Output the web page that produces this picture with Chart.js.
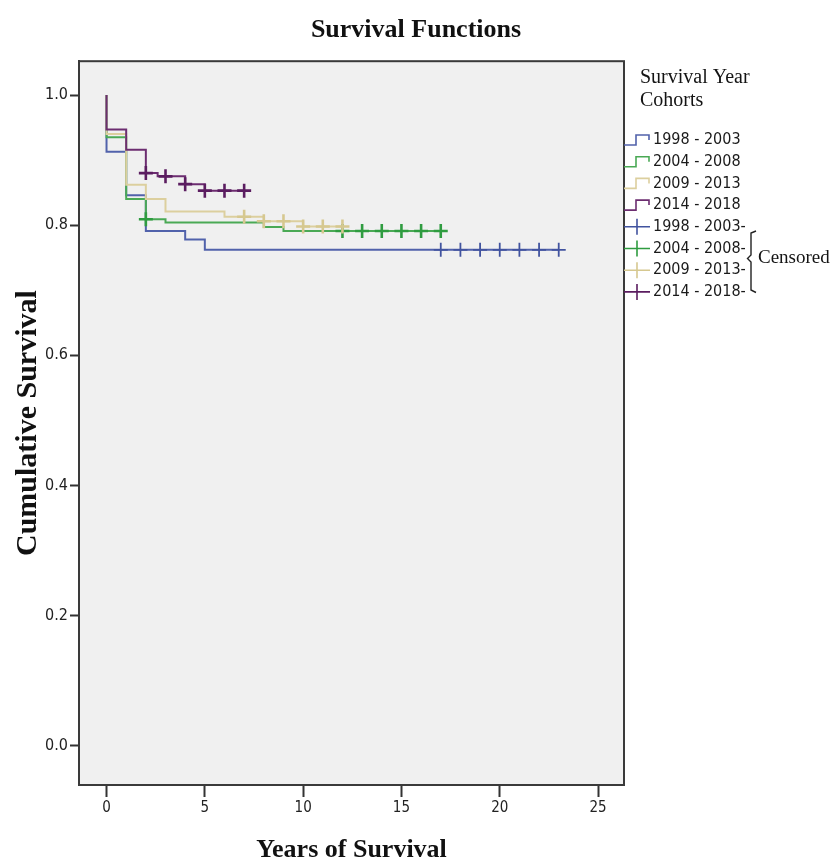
<!DOCTYPE html>
<html>
<head>
<meta charset="utf-8">
<script src="https://cdn.jsdelivr.net/npm/chart.js@4.4.1/dist/chart.umd.min.js"></script>
<style>
  html, body { margin: 0; padding: 0; background: #ffffff; }
  #wrap { width: 832px; height: 868px; }
</style>
</head>
<body>
<div id="wrap"><canvas id="c" width="832" height="868"></canvas></div>
<script>
// ---------------- data ----------------
const cohorts = ["1998 - 2003", "2004 - 2008", "2009 - 2013", "2014 - 2018"];
const censoredLabels = ["1998 - 2003-", "2004 - 2008-", "2009 - 2013-", "2014 - 2018-"];
const legendTitle = ["Survival Year", "Cohorts"];
const censoredText = "Censored";

const xTicks = [0, 5, 10, 15, 20, 25];
const yTicks = [0.0, 0.2, 0.4, 0.6, 0.8, 1.0];

// step curves (time of change, survival after change)
const blueTimes = [0, 0, 1, 2, 4, 5, 23];
const blueSurv  = [1.0, 0.913, 0.846, 0.791, 0.778, 0.762, 0.762];
const greenTimes = [0, 0, 1, 2, 3, 8, 9, 17];
const greenSurv  = [1.0, 0.935, 0.840, 0.809, 0.804, 0.797, 0.791, 0.791];
const tanTimes = [0, 0, 1, 2, 3, 6, 8, 10, 12];
const tanSurv  = [1.0, 0.940, 0.862, 0.840, 0.821, 0.813, 0.806, 0.798, 0.798];
const purpleTimes = [0, 0, 1, 2, 2.6, 4, 5, 7];
const purpleSurv  = [1.0, 0.947, 0.916, 0.880, 0.875, 0.863, 0.853, 0.853];

// censored observations
const blueCensT = [17, 18, 19, 20, 21, 22, 23];
const blueCensS = [0.762, 0.762, 0.762, 0.762, 0.762, 0.762, 0.762];
const greenCensT = [2, 12, 13, 14, 15, 16, 17];
const greenCensS = [0.809, 0.791, 0.791, 0.791, 0.791, 0.791, 0.791];
const tanCensT = [7, 8, 9, 10, 11, 12];
const tanCensS = [0.813, 0.806, 0.806, 0.798, 0.798, 0.798];
const purpleCensT = [2, 3, 4, 5, 6, 7];
const purpleCensS = [0.880, 0.875, 0.863, 0.853, 0.853, 0.853];

// ---------------- styles ----------------
const lineColors  = ["#5162ab", "#4aa955", "#dccf9e", "#6c2d70"];
const crossColors = ["#41539f", "#2f9c40", "#d6c890", "#5b1d60"];

const toPts = (t, s) => t.map((v, i) => ({ x: v, y: s[i] }));
const curveT = [blueTimes, greenTimes, tanTimes, purpleTimes];
const curveS = [blueSurv, greenSurv, tanSurv, purpleSurv];
const censT = [blueCensT, greenCensT, tanCensT, purpleCensT];
const censS = [blueCensS, greenCensS, tanCensS, purpleCensS];

const datasets = [];
for (let i = 0; i < 4; i++) {
  datasets.push({
    type: 'line',
    label: cohorts[i],
    data: toPts(curveT[i], curveS[i]),
    stepped: 'before',
    borderColor: lineColors[i],
    borderWidth: 2,
    pointRadius: 0,
    fill: false,
    order: 8 - i
  });
}
for (let i = 0; i < 4; i++) {
  datasets.push({
    type: 'line',
    label: censoredLabels[i],
    data: toPts(censT[i], censS[i]),
    showLine: false,
    pointStyle: 'cross',
    pointRadius: 7,
    pointBorderWidth: i === 0 ? 1.8 : 2.6,
    pointBorderColor: crossColors[i],
    borderColor: crossColors[i],
    order: 4 - i
  });
}

const SERIF = '"Liberation Serif", "DejaVu Serif", serif';
const COND = '"DejaVu Sans Condensed", "Liberation Sans Narrow", "DejaVu Sans", sans-serif';

const framePlugin = {
  id: 'frame',
  beforeDraw(chart) {
    const { ctx, chartArea: a } = chart;
    ctx.save();
    ctx.fillStyle = '#f0f0f0';
    ctx.fillRect(a.left, a.top, a.right - a.left, a.bottom - a.top);
    ctx.restore();
  },
  afterDraw(chart) {
    const { ctx, chartArea: a } = chart;
    ctx.save();
    ctx.strokeStyle = '#3a3a3a';
    ctx.lineWidth = 2;
    ctx.strokeRect(a.left, a.top, a.right - a.left, a.bottom - a.top);
    ctx.restore();
  }
};

const legendPlugin = {
  id: 'kmLegend',
  afterDraw(chart) {
    const { ctx, chartArea: a } = chart;
    const x0 = a.right;
    ctx.save();
    ctx.fillStyle = '#141414';
    ctx.textAlign = 'left';
    ctx.textBaseline = 'middle';
    ctx.font = '20px ' + SERIF;
    ctx.fillText(legendTitle[0], 640, 78);
    ctx.fillText(legendTitle[1], 640, 101);

    const rowY = i => 140 + i * 21.7;
    ctx.font = '16px ' + COND;
    // step symbols
    for (let i = 0; i < 4; i++) {
      const y = rowY(i);
      ctx.strokeStyle = lineColors[i];
      ctx.lineWidth = 1.6;
      ctx.beginPath();
      ctx.moveTo(x0, y + 5);
      ctx.lineTo(x0 + 12, y + 5);
      ctx.lineTo(x0 + 12, y - 5);
      ctx.lineTo(x0 + 25, y - 5);
      ctx.lineTo(x0 + 25, y);
      ctx.stroke();
      ctx.fillStyle = '#1a1a1a';
      ctx.fillText(cohorts[i], x0 + 29, y);
    }
    // cross symbols
    for (let i = 0; i < 4; i++) {
      const y = rowY(i + 4);
      ctx.strokeStyle = crossColors[i];
      ctx.lineWidth = 1.6;
      ctx.beginPath();
      ctx.moveTo(x0, y);
      ctx.lineTo(x0 + 26, y);
      ctx.moveTo(x0 + 13, y - 8);
      ctx.lineTo(x0 + 13, y + 8);
      ctx.stroke();
      ctx.fillStyle = '#1a1a1a';
      ctx.fillText(censoredLabels[i], x0 + 29, y);
    }
    // brace
    ctx.strokeStyle = '#222';
    ctx.lineWidth = 1.4;
    ctx.beginPath();
    ctx.moveTo(756, 231);
    ctx.lineTo(751, 233);
    ctx.lineTo(751, 255);
    ctx.lineTo(747.5, 258.5);
    ctx.lineTo(751, 262);
    ctx.lineTo(751, 290);
    ctx.lineTo(756, 292.5);
    ctx.stroke();
    ctx.fillStyle = '#141414';
    ctx.font = '19px ' + SERIF;
    ctx.fillText(censoredText, 758, 258);
    ctx.restore();
  }
};

new Chart(document.getElementById('c'), {
  data: { datasets },
  options: {
    responsive: false,
    animation: false,
    devicePixelRatio: 1,
    layout: { padding: { top: 0, right: 0, bottom: 0, left: 0 } },
    plugins: {
      legend: { display: false },
      tooltip: { enabled: false },
      title: {
        display: true,
        text: 'Survival Functions',
        color: '#111',
        font: { family: SERIF, size: 26, weight: 'bold' },
        padding: { top: 15, bottom: 15 }
      }
    },
    scales: {
      x: {
        type: 'linear',
        min: -1.4,
        max: 26.32,
        afterBuildTicks: s => { s.ticks = xTicks.map(v => ({ value: v })); },
        afterFit: s => { s.height = 83; },
        ticks: {
          color: '#222',
          font: { family: COND, size: 15 },
          padding: 2,
          callback: v => String(v)
        },
        grid: { drawOnChartArea: false, drawTicks: true, tickLength: 12, tickColor: '#333', tickWidth: 2 },
        border: { display: true, color: '#3a3a3a', width: 2 },
        title: {
          display: true,
          text: 'Years of Survival',
          color: '#111',
          font: { family: SERIF, size: 26, weight: 'bold' },
          padding: { top: 17, bottom: 2 }
        }
      },
      y: {
        type: 'linear',
        min: -0.0606,
        max: 1.052,
        afterBuildTicks: s => { s.ticks = yTicks.map(v => ({ value: v })); },
        afterFit: s => { s.width = 79; },
        ticks: {
          color: '#222',
          font: { family: COND, size: 16 },
          padding: 2,
          callback: v => Number(v).toFixed(1)
        },
        grid: { drawOnChartArea: false, drawTicks: true, tickLength: 9, tickColor: '#333', tickWidth: 2 },
        border: { display: true, color: '#3a3a3a', width: 2 },
        title: {
          display: true,
          text: 'Cumulative Survival',
          color: '#111',
          font: { family: SERIF, size: 30, weight: 'bold' },
          padding: { top: 10, bottom: 2 }
        }
      },
      yR: {
        type: 'linear',
        position: 'right',
        display: true,
        afterFit: s => { s.width = 208; },
        ticks: { display: false },
        grid: { display: false, drawTicks: false },
        border: { display: false },
        title: { display: false }
      }
    }
  },
  plugins: [framePlugin, legendPlugin]
});
</script>
</body>
</html>
